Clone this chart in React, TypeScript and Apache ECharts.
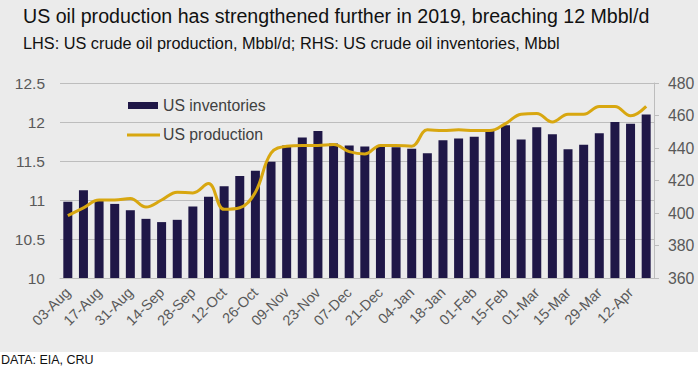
import React, { useEffect, useRef } from "react";
import * as echarts from "echarts";

const weeks = [
  "03-Aug", "10-Aug", "17-Aug", "24-Aug", "31-Aug", "07-Sep", "14-Sep", "21-Sep",
  "28-Sep", "05-Oct", "12-Oct", "19-Oct", "26-Oct", "02-Nov", "09-Nov", "16-Nov",
  "23-Nov", "30-Nov", "07-Dec", "14-Dec", "21-Dec", "28-Dec", "04-Jan", "11-Jan",
  "18-Jan", "25-Jan", "01-Feb", "08-Feb", "15-Feb", "22-Feb", "01-Mar", "08-Mar",
  "15-Mar", "22-Mar", "29-Mar", "05-Apr", "12-Apr", "19-Apr",
];

const inventories = [
  407, 414, 408, 405.6, 401.7, 396.4, 394.4, 395.8, 404, 410, 416.4, 422.8, 426,
  431.5, 441.5, 446.5, 450.4, 442.8, 441.6, 441, 440.7, 440.4, 439.5, 436.7, 444.8,
  445.9, 446.9, 450.4, 454, 445.3, 452.8, 448.5, 439.3, 442, 449.1, 456, 455, 460.6,
];

const production = [
  10.8, 10.9, 11.0, 11.0, 11.02, 10.91, 11.0, 11.1, 11.09, 11.21, 10.88, 10.9, 11.1,
  11.6, 11.69, 11.7, 11.7, 11.71, 11.62, 11.59, 11.7, 11.7, 11.69, 11.9, 11.89, 11.9,
  11.89, 11.89, 11.98, 12.1, 12.11, 12.0, 12.1, 12.1, 12.2, 12.2, 12.08, 12.2,
];

const leftTicks = { min: 10, max: 12.5, interval: 0.5 };
const rightTicks = { min: 360, max: 480, interval: 20 };

const FONT = "'Liberation Sans', Arial, sans-serif";
const BAR_COLOR = "#1f1747";
const LINE_COLOR = "#d8a710";

export default function App() {
  const ref = useRef<HTMLDivElement>(null);
  useEffect(() => {
    if (!ref.current) return;
    const chart = echarts.init(ref.current, undefined, { renderer: "svg" });
    chart.setOption({
      animation: false,
      backgroundColor: "#ebebeb",
      textStyle: { fontFamily: FONT },
      graphic: [
        {
          type: "text",
          left: 23,
          top: 6,
          style: {
            text: "US oil production has strengthened further in 2019, breaching 12 Mbbl/d",
            fontSize: 19.6,
            fontFamily: FONT,
            fill: "#111",
          },
        },
        {
          type: "text",
          left: 23,
          top: 35,
          style: {
            text: "LHS: US crude oil production, Mbbl/d; RHS: US crude oil inventories, Mbbl",
            fontSize: 16.3,
            fontFamily: FONT,
            fill: "#111",
          },
        },
        // white footer strip
        {
          type: "rect",
          shape: { x: 0, y: 352, width: 698, height: 17 },
          style: { fill: "#ffffff" },
        },
        {
          type: "text",
          left: 1,
          top: 353,
          style: {
            text: "DATA: EIA, CRU",
            fontSize: 12.5,
            fontFamily: FONT,
            fill: "#111",
          },
        },
        // legend
        { type: "rect", shape: { x: 128, y: 102, width: 30, height: 7 }, style: { fill: BAR_COLOR } },
        {
          type: "text",
          x: 163,
          y: 105.5,
          style: {
            text: "US inventories",
            fontSize: 15.8,
            fontFamily: FONT,
            fill: "#404040",
            verticalAlign: "middle",
          },
        },
        {
          type: "line",
          shape: { x1: 127, y1: 135, x2: 160, y2: 135 },
          style: { stroke: LINE_COLOR, lineWidth: 3 },
        },
        {
          type: "text",
          x: 163,
          y: 134.5,
          style: {
            text: "US production",
            fontSize: 15.8,
            fontFamily: FONT,
            fill: "#404040",
            verticalAlign: "middle",
          },
        },
      ],
      grid: { left: 60, right: 44, top: 83, bottom: 91 },
      xAxis: {
        type: "category",
        data: weeks,
        axisLine: { show: true, lineStyle: { color: "#bdbdbd", width: 1 } },
        axisTick: { show: false },
        axisLabel: {
          interval: 1,
          rotate: 45,
          fontSize: 14.5,
          color: "#595959",
          fontFamily: FONT,
          margin: 12,
        },
      },
      yAxis: [
        {
          type: "value",
          position: "left",
          ...leftTicks,
          axisLine: { show: false },
          axisTick: { show: false },
          splitLine: { lineStyle: { color: "#bdbdbd", width: 1 } },
          axisLabel: { fontSize: 15.5, color: "#595959", fontFamily: FONT, margin: 15 },
        },
        {
          type: "value",
          position: "right",
          ...rightTicks,
          axisLine: { show: true, lineStyle: { color: "#bdbdbd", width: 1 } },
          axisTick: { show: true, length: 5, lineStyle: { color: "#bdbdbd" } },
          splitLine: { show: false },
          axisLabel: { fontSize: 15.8, color: "#595959", fontFamily: FONT, margin: 14 },
        },
      ],
      series: [
        {
          name: "US inventories",
          type: "bar",
          yAxisIndex: 1,
          data: inventories,
          barWidth: 9,
          itemStyle: { color: BAR_COLOR },
        },
        {
          name: "US production",
          type: "line",
          yAxisIndex: 0,
          data: production,
          smooth: 0.4,
          symbol: "none",
          lineStyle: { color: LINE_COLOR, width: 3 },
          itemStyle: { color: LINE_COLOR },
        },
      ],
    });
    return () => chart.dispose();
  }, []);
  return (
    <div
      ref={ref}
      style={{ position: "absolute", left: 0, top: 0, width: 698, height: 369 }}
    />
  );
}
